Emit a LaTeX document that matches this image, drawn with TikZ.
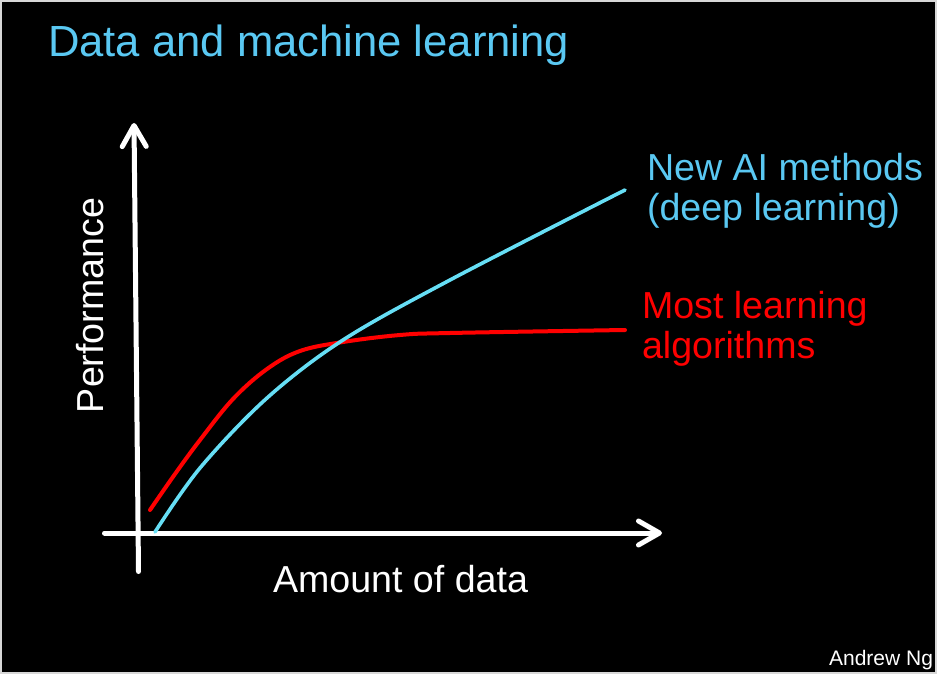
\documentclass[tikz,border=0pt]{standalone}
\usepackage{fontspec}
\setmainfont{Liberation Sans}
\usetikzlibrary{arrows.meta}
\definecolor{bordergray}{RGB}{215,215,215}
\definecolor{titleblue}{RGB}{90,200,242}
\definecolor{curvecyan}{RGB}{102,222,245}
\definecolor{curvered}{RGB}{255,0,0}
\begin{document}
\begin{tikzpicture}[x=1pt,y=-1pt,
  axis/.style={draw=white, line width=5pt, line cap=round, line join=round,
    -{Straight Barb[length=21pt,width=24pt,round]}},
  curve/.style={line width=4pt, line cap=round, line join=round},
  lbl/.style={inner sep=0pt, outer sep=0pt},
  big/.style={font=\fontsize{37.6}{40}\selectfont}]
\fill[bordergray] (0,0) rectangle (937,674);
\fill[black] (2,2) rectangle (935,672);
\useasboundingbox (0,0) rectangle (937,674);

\node[lbl, anchor=base west, text=titleblue, font=\fontsize{43.6}{50}\selectfont] (title) at (48,57) {Data and machine learning};

\coordinate (ybot) at (138.5,571.5);
\coordinate (ytop) at (134,123);
\coordinate (xleft) at (104.5,533);
\coordinate (xright) at (662,533);
\draw[axis] (ybot) -- (ytop);
\draw[axis] (xleft) -- (xright);

\draw[curve, curvered] plot[smooth, tension=0.6] coordinates
  {(150,510) (175,474) (200,440) (233,399) (267,369) (300,351) (343,342) (400,335) (450,333) (625,330)};
\draw[curve, curvecyan, line width=3.6pt] plot[smooth, tension=0.55] coordinates
  {(155,532) (200,468) (267,398) (343,340) (450,280) (625,190)};

\node[lbl, big, anchor=base west, text=titleblue, align=left] (dl) at (647,220) {New AI methods\\(deep learning)};
\node[lbl, big, anchor=base west, text=curvered, align=left] (ml) at (642,358) {Most learning\\algorithms};

\node[lbl, big, anchor=base west, text=white, rotate=90] (ylab) at (103,413) {Performance};
\node[lbl, big, anchor=base west, text=white] (xlab) at (273,592) {Amount of data};

\node[lbl, anchor=base east, text=white, font=\fontsize{21}{24}\selectfont] (credit) at (933,665) {Andrew Ng};
\end{tikzpicture}
\end{document}
